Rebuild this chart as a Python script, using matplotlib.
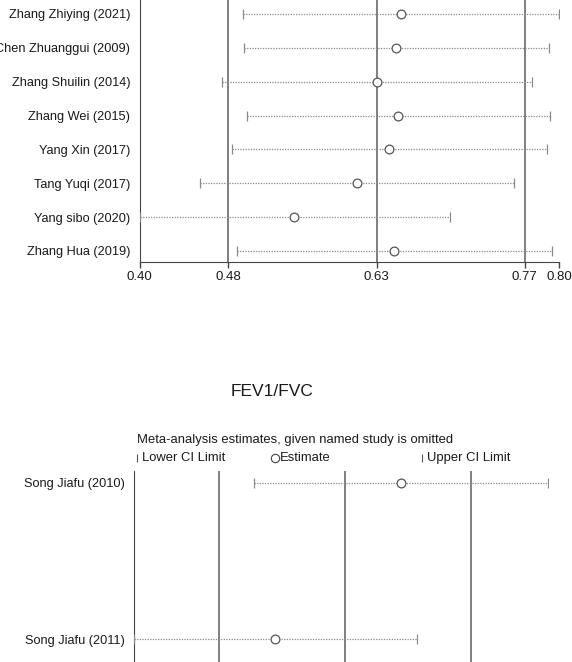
import numpy as np
import matplotlib
matplotlib.use("Agg")
import matplotlib.pyplot as plt
from matplotlib.lines import Line2D

plt.rcParams['font.family'] = ['Liberation Sans', 'DejaVu Sans']

# panel 1 (cropped at the top): study omitted, lower CI, estimate, upper CI
studies_a = ['Zhang Zhiying (2021)', 'Chen Zhuanggui (2009)', 'Zhang Shuilin (2014)',
             'Zhang Wei (2015)', 'Yang Xin (2017)', 'Tang Yuqi (2017)',
             'Yang sibo (2020)', 'Zhang Hua (2019)']
lower_a = [0.4988, 0.4992, 0.4783, 0.5020, 0.4880, 0.4578, 0.4000, 0.4929]
est_a = [0.6496, 0.6450, 0.6262, 0.6465, 0.6381, 0.6074, 0.5473, 0.6426]
upper_a = [0.8000, 0.7906, 0.7739, 0.7912, 0.7885, 0.7575, 0.6959, 0.7933]
overall_a = [0.4843, 0.6260, 0.7673]
ticks_a = [0.40, 0.4843, 0.6260, 0.7673, 0.80]
ticklabels_a = ['0.40', '0.48', '0.63', '0.77', '0.80']

# panel 2 (FEV1/FVC, cropped at the bottom)
studies_b = ['Song Jiafu (2010)', 'Song Jiafu (2011)']
lower_b = [0.4413, 0.2992]
est_b = [0.6165, 0.4665]
upper_b = [0.7925, 0.6355]
overall_b = [0.40, 0.55, 0.70]

W, H = 572, 662
fig = plt.figure(figsize=(W / 100, H / 100), dpi=100)

line_c = '#6a6a6a'
dot_c = '#8a8a8a'
txt_c = '#1a1a1a'
fs = 9.2


def forest(ax, names, lo, es, hi, overall, xlim, ylim, rows, pad):
    for v in overall:
        ax.axvline(v, color=line_c, lw=1.2, zorder=1)
    ax.hlines(rows, lo, hi, colors=dot_c, linestyles=(0, (1, 1.1)), lw=0.9, zorder=2)
    ax.plot(lo, rows, ls='none', marker='|', ms=7, mew=0.9, color=dot_c, zorder=3)
    ax.plot(hi, rows, ls='none', marker='|', ms=7, mew=0.9, color=dot_c, zorder=3)
    ax.plot(es, rows, ls='none', marker='o', ms=6.3, mfc='white', mec='#555555',
            mew=0.9, zorder=4)
    ax.set_xlim(*xlim)
    ax.set_ylim(*ylim)
    ax.set_yticks(rows, names)
    ax.tick_params(axis='y', length=0, pad=pad, labelsize=fs, labelcolor=txt_c)
    for s in ['top', 'right']:
        ax.spines[s].set_visible(False)
    ax.spines['left'].set_color('#444444')
    ax.spines['bottom'].set_color('#444444')
    ax.patch.set_alpha(0)


# top panel
step_a = 33.86
rows_a = np.arange(len(studies_a), 0, -1)
top_a, bot_a = -14.0, 261.7
ax1 = fig.add_axes([139.7 / W, (H - bot_a) / H, 419.2 / W, (bot_a - top_a) / H])
y0 = 1 - (bot_a - 251.0) / step_a
forest(ax1, studies_a, lower_a, est_a, upper_a, overall_a,
       (0.40, 0.80), (y0, y0 + (bot_a - top_a) / step_a), rows_a, 6.8)
ax1.set_xticks(ticks_a, ticklabels_a)
ax1.tick_params(axis='x', length=4, width=1, color='#444444', pad=3,
                labelsize=9.5, labelcolor=txt_c)

# bottom panel
step_b = 156.6
rows_b = np.arange(len(studies_b), 0, -1)
top_b, bot_b = 471.0, 690.0
ax2 = fig.add_axes([134.3 / W, (H - bot_b) / H, 414.0 / W, (bot_b - top_b) / H])
forest(ax2, studies_b, lower_b, est_b, upper_b, overall_b,
       (0.2992, 0.7925),
       (1 - (bot_b - 639.3) / step_b, 2 + (482.7 - top_b) / step_b), rows_b, 6.6)
ax2.set_xticks([])
ax2.spines['bottom'].set_visible(False)

# titles and legend
fig.text(272.5 / W, 1 - 391.5 / H, 'FEV1/FVC', ha='center', va='center',
         fontsize=12.5, color=txt_c)
fig.text(137.2 / W, 1 - 440 / H, 'Meta-analysis estimates, given named study is omitted',
         ha='left', va='center', fontsize=9.4, color=txt_c)

leg_y = 1 - 457.7 / H
keys = [(136.5, '|', 'Lower CI Limit'), (274.5, 'o', 'Estimate'), (421.5, '|', 'Upper CI Limit')]
for kx, mk, label in keys:
    if mk == 'o':
        fig.add_artist(Line2D([kx / W], [leg_y], marker='o', ms=6, mfc='white',
                              mec='#444444', mew=0.8, ls='none'))
        tx = kx + 5
    else:
        fig.add_artist(Line2D([kx / W], [leg_y], marker='|', ms=6, mew=0.8,
                              color='#555555', ls='none'))
        tx = kx + 5.5
    fig.text(tx / W, leg_y, label, ha='left', va='center', fontsize=9.4, color=txt_c)

fig.savefig('out.png', dpi=100)
